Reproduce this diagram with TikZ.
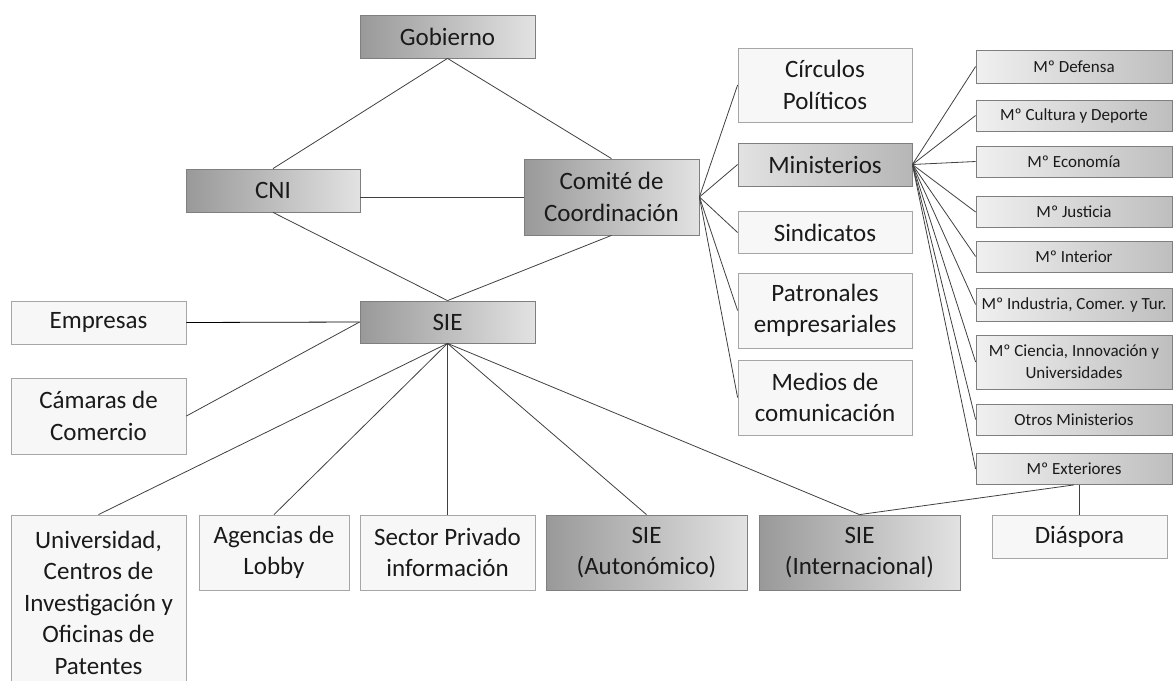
\documentclass[tikz,border=0pt]{standalone}
\usepackage{fontspec}
\setmainfont{Carlito}
\definecolor{gdark}{HTML}{999999}
\definecolor{glight}{HTML}{E2E2E2}
\definecolor{bord}{HTML}{7F7F7F}
\definecolor{wbord}{HTML}{A6A6A6}
\definecolor{wfill}{HTML}{F7F7F7}
\definecolor{mlight}{HTML}{F0F0F0}
\definecolor{mdark}{HTML}{BEBEBE}
\definecolor{nlight}{HTML}{E2E2E2}
\definecolor{ndark}{HTML}{B6B6B6}
\definecolor{lnc}{HTML}{404040}
\definecolor{txt}{HTML}{1A1A1A}
\tikzset{
  base/.style={draw, rectangle, inner sep=0pt, align=center, text=txt,
    font=\fontsize{25}{31.5}\selectfont, line width=0.8pt},
  gradbox/.style={base, draw=bord, left color=gdark, right color=glight},
  ministbox/.style={base, draw=bord, left color=nlight, right color=ndark},
  whitebox/.style={base, draw=wbord, fill=wfill},
  minbox/.style={base, draw=bord, left color=mlight, right color=mdark,
    font=\fontsize{17}{22}\selectfont, minimum width=196pt},
  conn/.style={draw=lnc, line width=0.8pt},
}
\begin{document}
\begin{tikzpicture}[x=1pt,y=-1pt]
\useasboundingbox (0,0) rectangle (1175,680);
% central diamond
\node[gradbox, minimum width=175pt, minimum height=43pt] (gob) at (447.5,36.5) {Gobierno};
\node[gradbox, minimum width=174pt, minimum height=43pt] (cni) at (273,190.5) {CNI};
\node[gradbox, minimum width=175pt, minimum height=76pt] (com) at (611.5,197) {Comité de\\Coordinación};
\node[gradbox, minimum width=175pt, minimum height=42pt] (sie) at (447.5,322) {SIE};
% left boxes
\node[whitebox, minimum width=175pt, minimum height=43pt] (emp) at (98.5,322.5) {Empresas};
\node[whitebox, minimum width=175pt, minimum height=76pt] (cam) at (98.5,416) {Cámaras de\\Comercio};
% bottom row
\node[whitebox, minimum width=175pt, minimum height=175pt] (uni) at (98.5,602.5) {Universidad,\\Centros de\\Investigación y\\Oficinas de\\Patentes};
\node[whitebox, minimum width=150pt, minimum height=75pt] (age) at (274,552.5) {Agencias de\\Lobby};
\node[whitebox, minimum width=175pt, minimum height=75pt] (sec) at (447.5,552.5) {Sector Privado\\información};
\node[gradbox, minimum width=201pt, minimum height=75pt] (aut) at (646.5,552.5) {SIE\\(Autonómico)};
\node[gradbox, minimum width=201pt, minimum height=75pt] (int) at (859.5,552.5) {SIE\\(Internacional)};
% middle column
\node[whitebox, minimum width=174pt, minimum height=74pt] (cir) at (825,85) {Círculos\\Políticos};
\node[ministbox, minimum width=174pt, minimum height=43pt] (min) at (825,164.5) {Ministerios};
\node[whitebox, minimum width=174pt, minimum height=42pt] (sin) at (825,232.5) {Sindicatos};
\node[whitebox, minimum width=174pt, minimum height=75pt] (pat) at (825,310.5) {Patronales\\empresariales};
\node[whitebox, minimum width=174pt, minimum height=75pt] (med) at (825,397.5) {Medios de\\comunicación};
% ministries
\node[minbox, minimum height=33pt] (def) at (1074,66.5) {Mº Defensa};
\node[minbox, minimum height=31pt] (cul) at (1074,115.5) {Mº Cultura y Deporte};
\node[minbox, minimum height=31pt] (eco) at (1074,161.5) {Mº Economía};
\node[minbox, minimum height=31pt] (jus) at (1074,212) {Mº Justicia};
\node[minbox, minimum height=31pt] (inr) at (1074,256.5) {Mº Interior};
\node[minbox, minimum height=33pt] (ind) at (1074,304.5) {Mº Industria, Comer. y Tur.};
\node[minbox, minimum height=54pt] (cie) at (1074,362) {Mº Ciencia, Innovación y\\Universidades};
\node[minbox, minimum height=31pt] (otr) at (1074,419.5) {Otros Ministerios};
\node[minbox, minimum height=31pt] (ext) at (1074,469) {Mº Exteriores};
\node[whitebox, minimum width=175pt, minimum height=43pt] (dia) at (1079.5,536.5) {Diáspora};
% connectors: diamond
\draw[conn] (gob.south) -- (cni.north);
\draw[conn] (gob.south) -- (com.north);
\draw[conn] (cni.south) -- (sie.north);
\draw[conn] (com.south) -- (sie.north);
\draw[conn] (cni.east |- com.west) -- (com.west);
% SIE fan
\draw[draw=black, line width=0.8pt] (emp.east) -- (sie.west);
\draw[conn] (cam.east) -- (sie.west);
\draw[conn] (sie.south) -- (uni.north);
\draw[conn] (sie.south) -- (age.north);
\draw[conn] (sie.south) -- (sec.north);
\draw[conn] (sie.south) -- (aut.north);
\draw[conn] (sie.south) -- (int.north);
% Comité fan
\foreach \t in {cir,min,sin,pat,med} \draw[conn] (com.east) -- (\t.west);
% Ministerios fan
\foreach \t in {def,cul,eco,jus,inr,ind,cie,otr,ext} \draw[conn] (min.east) -- (\t.west);
% Exteriores
\draw[conn] (ext.south) -- (int.north);
\draw[conn] (dia.north |- ext.south) -- (dia.north);
\end{tikzpicture}
\end{document}
